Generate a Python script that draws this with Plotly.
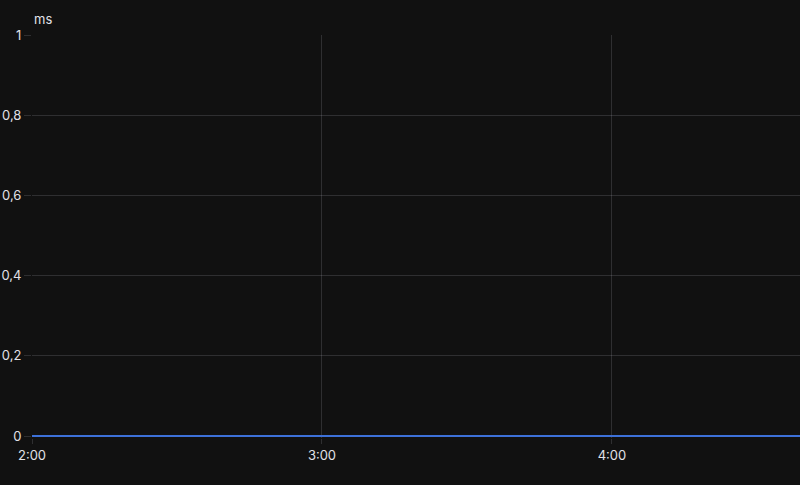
import plotly.graph_objects as go

# sample times (time of day) and latency values in ms
times = ['2024-01-01 02:00', '2024-01-01 02:10', '2024-01-01 02:20', '2024-01-01 02:30',
         '2024-01-01 02:40', '2024-01-01 02:50', '2024-01-01 03:00', '2024-01-01 03:10',
         '2024-01-01 03:20', '2024-01-01 03:30', '2024-01-01 03:40', '2024-01-01 03:50',
         '2024-01-01 04:00', '2024-01-01 04:10', '2024-01-01 04:20', '2024-01-01 04:30',
         '2024-01-01 04:40']
latency_ms = [0, 0, 0, 0, 0, 0, 0, 0, 0, 0, 0, 0, 0, 0, 0, 0, 0]

y_ticks = [0, 0.2, 0.4, 0.6, 0.8, 1]
x_ticks = ['2024-01-01 02:00', '2024-01-01 03:00', '2024-01-01 04:00']
x_tick_text = ['2:00', '3:00', '4:00']

bg = '#111111'
grid = 'rgba(204,204,220,0.16)'
text = 'rgb(225,225,232)'

fig = go.Figure()
fig.add_trace(go.Scatter(x=times, y=latency_ms, mode='lines',
                         line=dict(color='#3d71d9', width=2), showlegend=False))

fig.update_layout(
    width=800, height=485,
    paper_bgcolor=bg, plot_bgcolor=bg,
    margin=dict(l=32, r=0, t=35, b=47),
    font=dict(family='Inter, Roboto, sans-serif', size=13, color=text),
    separators=',.',
    annotations=[dict(text='ms', xref='paper', yref='paper', x=0, y=1, yshift=6,
                      xanchor='left', yanchor='bottom', showarrow=False,
                      font=dict(size=13, color=text))],
)
fig.update_xaxes(type='date', range=['2024-01-01 02:00', '2024-01-01 04:38:54'],
                 tickvals=x_ticks, ticktext=x_tick_text,
                 showgrid=True, gridcolor=grid, gridwidth=1,
                 ticks='outside', ticklen=5, tickcolor=grid,
                 zeroline=False, showline=False)
fig.update_yaxes(range=[-0.005, 1], tickvals=y_ticks,
                 showgrid=True, gridcolor=grid, gridwidth=1,
                 ticks='outside', ticklen=7, tickcolor=grid,
                 zeroline=False, showline=False)

fig.write_html('out.html', config={'displayModeBar': False},
               post_script="document.body.style.margin='0px';")
